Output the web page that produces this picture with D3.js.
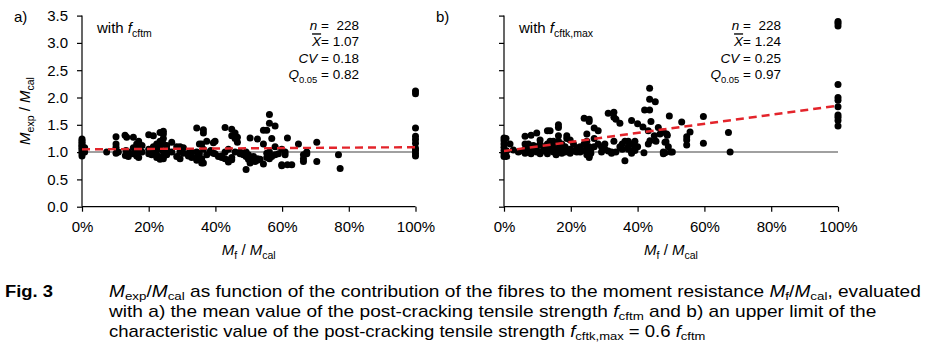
<!DOCTYPE html>
<html>
<head>
<meta charset="utf-8">
<script src="https://cdn.jsdelivr.net/npm/d3@7/dist/d3.min.js"></script>
<style>
  body { margin: 0; background: #fff; }
  svg { display: block; font-family: "Liberation Sans", Arial, sans-serif; }
</style>
</head>
<body>
<svg id="chart" width="926" height="348"></svg>
<script>
// [Mf/Mcal in %, Mexp/Mcal]
const pointsA = [
  [0,1.24],[0,1.21],[0,1.18],[0,1.15],[0,1.12],[0,1.1],[0,1.07],[0,1.04],[0,1.0],[0,0.97],[0,0.93],[0.8,1.08],[0.8,1.0],
  [7.4,1.0],
  [10.2,1.28],[10.2,1.15],[10.2,1.09],[10.2,0.98],[10.9,1.0],
  [12.9,1.31],[13.4,1.27],[13.2,1.03],[13.0,0.94],[13.9,1.0],[13.9,0.92],
  [15.4,1.27],[15.4,1.08],[15.4,0.97],
  [16.4,1.15],[16.4,1.0],[16.4,0.93],
  [17,1.2],[17,1.1],[17,0.9],
  [18,1.12],[18,1.0],
  [20,1.32],[20,1.05],[20,0.97],
  [20.9,1.0],[20.9,0.95],
  [21.4,1.3],[21.4,1.1],[21.4,1.0],
  [22.4,1.15],[22.4,1.05],[22.4,0.95],[22.4,0.9],
  [23.4,1.36],[23.4,1.2],[23.4,1.1],[23.4,1.05],[23.4,0.9],[23.4,0.87],
  [24.4,1.38],[24.4,1.33],[24.4,1.25],[24.4,1.15],[24.4,1.0],[24.4,0.92],[24.4,0.88],
  [25.4,1.12],[25.4,1.05],[25.4,0.95],
  [26.9,1.18],[26.9,1.0],
  [28.4,1.1],[28.4,0.92],
  [29.4,1.1],[29.4,1.0],[29.4,0.88],
  [30.4,1.08],[30.4,0.98],
  [31.9,0.98],[31.9,0.93],
  [32.9,1.0],[32.9,0.9],
  [34.4,1.44],[34.4,1.0],[34.4,0.9],[34.4,0.85],
  [35.2,1.15],[35.2,0.97],[35.2,0.88],
  [35.9,1.15],[35.9,0.88],[35.9,0.8],
  [36.4,1.41],[36.4,1.35],[36.4,1.05],[36.4,0.8],
  [37.4,1.2],[37.4,0.95],
  [38.4,1.0],[38.6,1.03],
  [39.4,1.17],[39.4,0.98],
  [39.9,1.2],[39.9,0.97],
  [40.9,0.92],
  [41.9,0.93],[41.9,0.9],
  [42.9,1.45],[42.9,1.0],[42.9,0.88],
  [43.9,0.85],[43.9,0.82],[43.9,1.05],
  [44.9,1.42],[44.9,1.3],[44.9,0.9],[44.9,0.86],
  [45.9,1.35],[45.9,1.25],[45.9,1.0],
  [46.6,1.27],[46.6,1.18],
  [47.4,0.97],[47.4,1.0],
  [48.4,0.98],[48.4,0.95],
  [49.2,0.68],[49.2,1.0],[49.2,0.92],
  [49.9,0.95],[49.9,0.9],[49.9,0.87],
  [50.4,1.26],[50.4,0.85],[50.4,0.8],
  [51.4,0.92],[51.4,0.87],[51.4,0.85],
  [51.9,0.83],
  [52.6,1.24],[52.6,0.85],[52.6,0.88],
  [53.4,0.87],
  [54.4,1.4],[54.4,1.15],[54.4,0.78],
  [55.4,1.4],[55.4,0.9],[55.4,0.98],
  [56.2,1.69],[56.2,1.53],[56.2,1.0],[56.2,0.88],
  [56.9,1.25],[56.9,0.92],
  [57.9,1.48],[57.9,1.1],[57.9,0.95],
  [58.9,0.97],
  [59.9,1.05],[59.9,0.77],[59.9,0.75],
  [60.9,1.0],[60.9,0.95],
  [61.6,1.26],[61.6,0.77],
  [62.9,0.77],
  [64.9,1.15],
  [66.4,0.95],[66.4,0.88],[66.4,0.83],
  [67.4,1.0],[67.4,0.97],
  [70.4,1.18],[70.4,0.83],
  [76.9,0.95],[77.4,0.7],
  [100,2.12],[100,2.07],[100,1.44],[100,1.29],[100,1.23],[100,1.16],[100,1.07],[100,1.03],[100,0.98],[100,0.93]
];

const pointsB = [
  [0,1.26],[0,1.21],[0,1.15],[0,1.09],[0,1.03],[0,0.97],[0,0.92],[0.6,1.25],
  [0.8,1.02],[0.8,0.92],[1.8,1.15],[2.8,1.04],
  [4.3,1.0],[5.8,1.02],
  [6.3,1.29],[6.3,1.15],[6.3,1.05],[6.3,0.98],
  [7.3,1.15],[7.3,1.0],
  [8.1,1.31],[8.1,1.08],[8.1,0.97],
  [8.8,1.12],[8.8,1.05],
  [9.8,1.35],[9.8,1.1],[9.8,1.0],
  [10.8,1.22],[10.8,1.15],[10.8,1.0],[10.8,0.97],
  [11.8,1.1],[11.8,1.02],
  [13,1.39],[13,1.15],[13,1.05],[13,0.97],
  [13.8,1.39],[13.8,1.2],[13.8,1.05],
  [14.8,1.2],[14.8,1.1],[14.8,1.0],
  [15.6,1.15],[15.6,1.05],[15.6,0.95],
  [16.3,1.5],[16.3,1.45],[16.3,1.3],[16.3,1.2],[16.3,1.1],[16.3,1.0],
  [17.3,1.15],[17.3,1.05],[17.3,0.98],
  [18.3,1.1],[18.3,1.0],
  [18.8,1.3],[18.8,1.25],
  [19.8,1.22],[19.8,1.05],[19.8,0.98],
  [20.8,1.15],[20.8,1.02],
  [21.8,1.08],[21.8,1.0],
  [22.8,1.1],[22.8,1.02],[22.8,1.0],
  [24,1.62],[24,1.15],[24,1.03],
  [24.8,1.33],[24.8,1.2],[24.8,1.05],[24.8,0.95],
  [25.5,1.6],[25.5,1.56],[25.5,1.1],[25.5,0.93],[25.5,0.9],
  [26,1.05],[26,0.98],
  [27,1.44],[27,1.25],[27,1.1],
  [28.2,1.39],[28.2,1.15],
  [29.2,1.1],[29.2,1.0],
  [30.2,1.15],[30.2,1.05],
  [31.2,1.71],[31.2,1.02],
  [32.2,1.0],[32.2,0.98],
  [32.9,1.73],[32.9,1.64],[32.9,1.2],
  [33.5,1.6],[33.5,1.0],
  [34.7,1.53],[34.7,1.1],
  [35.4,1.15],[35.4,1.05],
  [36.2,0.84],[36.2,1.2],
  [37.2,1.2],[37.2,1.1],[37.2,1.05],
  [38.2,1.58],[38.2,1.15],[38.2,1.02],[38.2,0.98],
  [39.2,1.2],[39.2,1.1],[39.2,1.03],
  [40,1.52],[40,1.1],
  [41.6,1.46],[41.9,0.99],[42.1,1.77],[43.6,2.17],[43.6,1.97],[43.6,1.77],[44,1.56],[45.3,1.92],
  [43.2,1.39],[43.7,1.21],[43.2,1.15],[46.2,1.45],[46.7,1.33],[48.2,1.18],[48.7,1.33],
  [45,1.3],[45.5,1.2],[47.7,1.37],[47.7,1.0],[47.7,0.97],[48.2,0.99],[48.5,1.19],[48.9,1.31],
  [49.2,1.1],[49.5,1.66],[49.9,1.0],[50.4,1.0],
  [53.2,1.55],[54.7,1.28],[54.7,1.22],[54.7,1.13],[55.7,1.37],[59.7,1.65],[59.7,1.16],[67.2,1.36],[67.7,1.0],
  [100,3.39],[100,3.36],[100,3.31],[100,2.24],[100,2.0],[100,1.95],[100,1.83],[100,1.68],[100,1.64],[100,1.58],[100,1.48]
];

// regression lines (end points)
const trendA = [[0,1.05],[100,1.09]];
const trendB = [[0,1.02],[100,1.85]];

const xTicks = [0, 20, 40, 60, 80, 100];
const yTicks = [0, 0.5, 1, 1.5, 2, 2.5, 3, 3.5];

const statsA = ["228", "1.07", "0.18", "0.82"];
const statsB = ["228", "1.24", "0.25", "0.97"];

const svg = d3.select('#chart');
const fs = 15;

// text with italic / subscript parts: [text, 'i' | 's' | 'o' | '']
function rich(sel, parts, size, shift = 0.28) {
    let sub = false;
    parts.forEach(([t, st]) => {
        const ts = sel.append('tspan').text(t);
        const isSub = st === 's';
        if (isSub && !sub) ts.attr('dy', size * shift);
        if (!isSub && sub) ts.attr('dy', -size * shift);
        if (isSub) ts.attr('font-size', size * 0.7);
        if (st === 'i') ts.attr('font-style', 'italic');
        if (st === 'o') ts.attr('font-style', 'italic').style('text-decoration', 'overline');
        sub = isSub;
    });
    return sel;
}

function panel(left, right, points, trend, showYLabels, label, fName, stats, statsX) {
    const x = d3.scaleLinear().domain([0, 100]).range([left, right]);
    const y = d3.scaleLinear().domain([0, 3.5]).range([206.7, 15.6]);
    const g = svg.append('g');

    const yAxis = g.append('g')
        .attr('transform', `translate(${left},0)`)
        .call(d3.axisLeft(y).tickValues(yTicks).tickSize(5).tickPadding(9)
            .tickFormat(showYLabels ? d3.format('.1f') : ''));
    const xAxis = g.append('g')
        .attr('transform', `translate(0,${y(0)})`)
        .call(d3.axisBottom(x).tickValues(xTicks).tickSize(5).tickPadding(10)
            .tickFormat(d => d + '%'));
    [yAxis, xAxis].forEach(a => {
        a.select('.domain').attr('stroke', '#000').attr('stroke-width', 1.2);
        a.selectAll('.tick line').attr('stroke', '#000').attr('stroke-width', 1.2);
        a.selectAll('.tick text').attr('font-size', fs).attr('fill', '#000')
            .attr('font-family', '"Liberation Sans", Arial, sans-serif');
    });
    yAxis.select('.domain').attr('d', `M0,${y(0)}V${y(3.5)}`);
    xAxis.select('.domain').attr('d', `M${left},0H${right}`);

    // reference line at 1.0
    g.append('line')
        .attr('x1', x(0)).attr('x2', x(100))
        .attr('y1', y(1)).attr('y2', y(1))
        .attr('stroke', '#808080').attr('stroke-width', 1.5);

    g.selectAll('.dot')
        .data(points)
        .enter()
        .append('circle')
        .attr('class', 'dot')
        .attr('cx', d => x(d[0]))
        .attr('cy', d => y(d[1]))
        .attr('r', 3.5)
        .attr('fill', '#000');

    g.append('path')
        .datum(trend)
        .attr('d', d3.line().x(d => x(d[0])).y(d => y(d[1])))
        .attr('fill', 'none')
        .attr('stroke', '#e3242b')
        .attr('stroke-width', 2.4)
        .attr('stroke-dasharray', '8,5');

    // x axis title
    rich(g.append('text')
        .attr('x', (left + right) / 2).attr('y', 255)
        .attr('text-anchor', 'middle').attr('font-size', fs),
        [['M', 'i'], ['f', 's'], [' / ', ''], ['M', 'i'], ['cal', 's']], fs);

    // panel letter
    g.append('text').attr('x', left - 68).attr('y', 22)
        .attr('font-size', fs).text(label);

    rich(g.append('text').attr('x', left + 15).attr('y', 33).attr('font-size', fs),
        [['with ', ''], ['f', 'i'], [fName, 's']], fs);

    // statistics
    const sf = 13.5;
    const lines = [
        [['n', 'i'], [' =  ' + stats[0], '']],
        [['X', 'o'], ['= ' + stats[1], '']],
        [['CV', 'i'], [' = ' + stats[2], '']],
        [['Q', 'i'], ['0.05', 's'], [' = ' + stats[3], '']]
    ];
    lines.forEach((ln, i) => {
        rich(g.append('text')
            .attr('x', statsX).attr('y', 30 + i * 16.3)
            .attr('text-anchor', 'end').attr('font-size', sf)
            .style('white-space', 'pre'), ln, sf);
    });
}

panel(82, 415.5, pointsA, trendA, true, 'a)', 'cftm', statsA, 359);
panel(504, 838, pointsB, trendB, false, 'b)', 'cftk,max', statsB, 781);

// y axis title
rich(svg.append('text')
    .attr('transform', 'translate(30,111) rotate(-90)')
    .attr('text-anchor', 'middle').attr('font-size', fs),
    [['M', 'i'], ['exp', 's'], [' / ', ''], ['M', 'i'], ['cal', 's']], fs);

// caption, squeezed to the widths of the original lines
const cf = 16;
function captionLine(parts, xPos, yPos, width, bold) {
    const t = rich(svg.append('text').attr('x', 0).attr('y', 0)
        .attr('font-size', cf).attr('font-weight', bold ? 'bold' : 'normal'), parts, cf, 0.2);
    const w = t.node().getComputedTextLength();
    t.attr('transform', `translate(${xPos},${yPos}) scale(${width / w},1)`);
}
captionLine([['Fig. 3', '']], 5, 297, 48, true);
captionLine([['M', 'i'], ['exp', 's'], ['/', ''], ['M', 'i'], ['cal', 's'],
    [' as function of the contribution of the fibres to the moment resistance ', ''],
    ['M', 'i'], ['f', 's'], ['/', ''], ['M', 'i'], ['cal', 's'], [', evaluated', '']], 109, 297, 812);
captionLine([['with a) the mean value of the post-cracking tensile strength ', ''], ['f', 'i'], ['cftm', 's'],
    [' and b) an upper limit of the', '']], 109, 317, 768);
captionLine([['characteristic value of the post-cracking tensile strength ', ''], ['f', 'i'], ['cftk,max', 's'],
    [' = 0.6 ', ''], ['f', 'i'], ['cftm', 's']], 109, 337, 597);
</script>
</body>
</html>
